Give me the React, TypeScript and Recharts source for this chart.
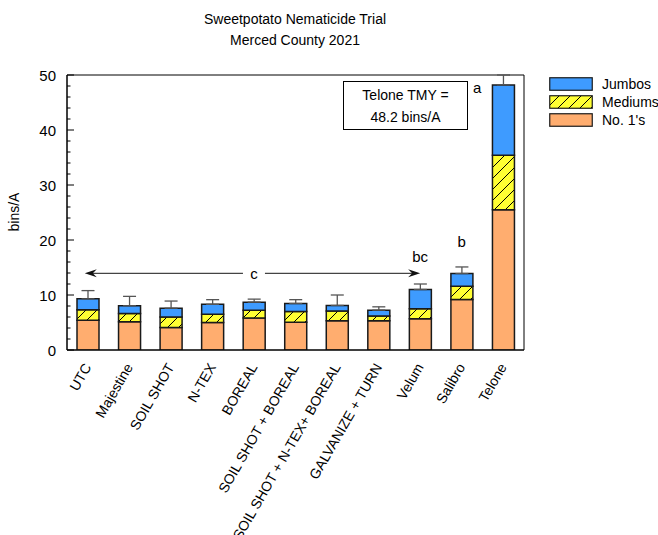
import {
  BarChart,
  Bar,
  XAxis,
  YAxis,
  ErrorBar,
  ReferenceArea,
  ReferenceLine,
  ReferenceDot,
  Legend,
} from 'recharts';

const categories = [
  'UTC',
  'Majestine',
  'SOIL SHOT',
  'N-TEX',
  'BOREAL',
  'SOIL SHOT + BOREAL',
  'SOIL SHOT + N-TEX+ BOREAL',
  'GALVANIZE + TURN',
  'Velum',
  'Salibro',
  'Telone',
];
const no1s = [5.4, 5.15, 4.1, 5.0, 5.8, 5.05, 5.3, 5.3, 5.7, 9.2, 25.5];
const mediums = [1.9, 1.5, 1.9, 1.5, 1.45, 1.95, 1.8, 0.9, 1.8, 2.4, 9.9];
const jumbos = [2.0, 1.4, 1.6, 1.8, 1.45, 1.45, 1.0, 1.05, 3.5, 2.3, 12.8];
const errors = [1.5, 1.7, 1.3, 0.85, 0.55, 0.7, 1.9, 0.6, 1.0, 1.2, 1.8];

const yTicks = [0, 2, 4, 6, 8, 10, 12, 14, 16, 18, 20, 22, 24, 26, 28, 30, 32, 34, 36, 38, 40, 42, 44, 46, 48, 50];

// significance letters
const letterMarks = [
  { name: 'Telone', text: 'a', y: 47.7, position: 'left', offset: 22 },
  { name: 'Salibro', text: 'b', y: 17.8, position: 'top', offset: 5 },
  { name: 'Velum', text: 'bc', y: 15.1, position: 'top', offset: 5 },
];

const data = categories.map((name, i) => ({
  name,
  no1: no1s[i],
  mediums: mediums[i],
  jumbos: jumbos[i],
  err: [0, errors[i]],
}));

const FONT = '"Liberation Sans", Arial, Helvetica, sans-serif';
const ORANGE = '#FFAD6F';
const YELLOW = '#FFFF33';
const BLUE = '#3E9BFF';
const EDGE = '#1a1a1a';

const legendItems = [
  { label: 'Jumbos', fill: BLUE },
  { label: 'Mediums', fill: 'url(#hatch)' },
  { label: "No. 1's", fill: ORANGE },
];

const YTick = ({ x, y, payload }: any) => {
  const axisX = x + 11; // tickSize + tickMargin
  const major = payload.value % 10 === 0;
  return (
    <g>
      <line x1={axisX} x2={axisX + (major ? 7 : 3.5)} y1={y} y2={y} stroke="#000" />
      {major && (
        <text x={x} y={y} dy={5.5} textAnchor="end" fontSize={15} fontFamily={FONT} fill="#000">
          {payload.value}
        </text>
      )}
    </g>
  );
};

const XTick = ({ x, y, payload }: any) => {
  const tx = x + 4;
  const ty = y + 9;
  return (
    <text
      x={tx}
      y={ty}
      transform={`rotate(-60 ${tx} ${ty})`}
      textAnchor="end"
      fontSize={14}
      fontFamily={FONT}
      fill="#000"
    >
      {payload.value}
    </text>
  );
};

const ArrowLine = ({ x1, y1, x2 }: any) => {
  const left = x1 - 3;
  const right = x2;
  const mid = (x1 + x2) / 2;
  const gap = 11;
  const head = (tip: number, dir: number) =>
    `M${tip},${y1} L${tip - dir * 12},${y1 - 4} L${tip - dir * 8},${y1} L${tip - dir * 12},${y1 + 4} Z`;
  return (
    <g>
      <line x1={left + 4} x2={mid - gap} y1={y1} y2={y1} stroke="#444" strokeWidth={1.3} />
      <line x1={mid + gap} x2={right - 4} y1={y1} y2={y1} stroke="#444" strokeWidth={1.3} />
      <path d={head(left, -1)} fill="#111" />
      <path d={head(right, 1)} fill="#111" />
      <text x={mid} y={y1 + 5.5} textAnchor="middle" fontSize={15} fontFamily={FONT} fill="#000">
        c
      </text>
    </g>
  );
};

const LegendBox = () => (
  <div style={{ fontFamily: FONT, fontSize: 14, color: '#000' }}>
    {legendItems.map((item) => (
      <div key={item.label} style={{ display: 'flex', alignItems: 'center', height: 18 }}>
        <svg width={44} height={14} style={{ display: 'block' }}>
          <rect x={0.75} y={0.75} width={42.5} height={12.5} fill={item.fill} stroke={EDGE} strokeWidth={1.2} />
        </svg>
        <span style={{ marginLeft: 9 }}>{item.label}</span>
      </div>
    ))}
  </div>
);

export default function App() {
  return (
    <div style={{ position: 'relative', width: 658, height: 535, fontFamily: FONT }}>
      <style>{'body{margin:0}'}</style>
      <div
        style={{
          position: 'absolute',
          left: 0,
          top: 8.6,
          width: 590,
          textAlign: 'center',
          fontSize: 14,
          lineHeight: '21px',
        }}
      >
        Sweetpotato Nematicide Trial
        <br />
        Merced County 2021
      </div>
      <div
        style={{
          position: 'absolute',
          left: 14,
          top: 212,
          transform: 'translate(-50%, -50%) rotate(-90deg)',
          fontSize: 14,
          whiteSpace: 'nowrap',
        }}
      >
        bins/A
      </div>
      <BarChart
        width={658}
        height={535}
        data={data}
        margin={{ top: 75, right: 134, left: 0, bottom: 0 }}
        barSize={22}
      >
        <defs>
          <pattern id="hatch" patternUnits="userSpaceOnUse" width={11} height={11}>
            <rect width={11} height={11} fill={YELLOW} />
            <path d="M-2,2 l4,-4 M0,11 l11,-11 M9,13 l4,-4" stroke="#000" strokeWidth={1} />
          </pattern>
        </defs>
        <XAxis
          dataKey="name"
          interval={0}
          height={185}
          tickSize={4}
          tickMargin={4}
          tickLine={false}
          axisLine={{ stroke: '#000' }}
          tick={<XTick />}
        />
        <YAxis
          width={67}
          domain={[0, 50]}
          allowDataOverflow
          ticks={yTicks}
          interval={0}
          tickSize={8}
          tickMargin={3}
          tickLine={false}
          axisLine={{ stroke: '#000' }}
          tick={<YTick />}
        />
        <ReferenceArea y1={0} y2={50} fill="none" stroke="#000" strokeWidth={1} fillOpacity={0} />
        <Bar dataKey="no1" stackId="s" fill={ORANGE} stroke={EDGE} strokeWidth={1.5} isAnimationActive={false} />
        <Bar dataKey="mediums" stackId="s" fill="url(#hatch)" stroke={EDGE} strokeWidth={1.5} isAnimationActive={false} />
        <Bar dataKey="jumbos" stackId="s" fill={BLUE} stroke={EDGE} strokeWidth={1.5} isAnimationActive={false}>
          <ErrorBar dataKey="err" direction="y" width={6.5} stroke="#555" strokeWidth={1.3} isAnimationActive={false} />
        </Bar>
        <ReferenceLine
          segment={[
            { x: 'UTC', y: 13.95 },
            { x: 'Velum', y: 13.95 },
          ]}
          shape={(p: any) => <ArrowLine {...p} />}
        />
        {letterMarks.map((m) => (
          <ReferenceDot
            key={m.text}
            x={m.name}
            y={m.y}
            r={0}
            fill="none"
            stroke="none"
            label={{
              value: m.text,
              position: m.position as any,
              offset: m.offset,
              fontSize: 15,
              fill: '#000',
              fontFamily: FONT,
            }}
          />
        ))}
        <Legend
          layout="vertical"
          align="center"
          verticalAlign="middle"
          content={<LegendBox />}
          wrapperStyle={{ left: 549, top: 75, width: 'auto', height: 'auto' }}
        />
      </BarChart>
      <div
        style={{
          position: 'absolute',
          left: 343,
          top: 81,
          width: 125,
          height: 49,
          boxSizing: 'border-box',
          border: '1px solid #000',
          background: '#fff',
          display: 'flex',
          alignItems: 'center',
          justifyContent: 'center',
          textAlign: 'center',
          fontSize: 14,
          lineHeight: '22px',
        }}
      >
        Telone TMY =
        <br />
        48.2 bins/A
      </div>
    </div>
  );
}
